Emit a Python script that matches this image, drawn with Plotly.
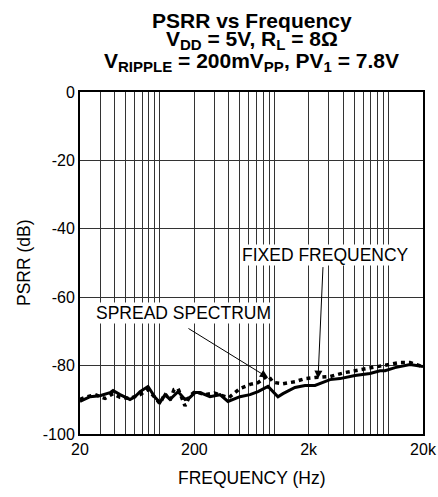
import plotly.graph_objects as go

# Solid curve (spread spectrum)
ss_freq = [20, 24.5, 29.9, 36.6, 38.9, 44.8, 54.7, 60.5, 67, 78.7, 90.6, 100, 110.8, 122.5,
           144, 165.7, 183, 203, 224, 274, 335, 394, 501, 614, 721, 882, 1078, 1192, 1518,
           1858, 2272, 2617, 3074, 3759, 5083, 6880, 8414, 9311, 11380, 15380, 20000]
ss_db = [-90.5, -89.1, -88.8, -87.9, -87.3, -88.5, -89.9, -89.1, -87.6, -86.1, -89.3, -90.8,
         -88.5, -89.9, -87.6, -89.9, -89.3, -87.9, -87.9, -89.1, -88.5, -90.5, -89.1, -88.5,
         -87.6, -86.1, -89.1, -88.2, -86.4, -85.8, -85.8, -84.9, -84.1, -83.8, -82.9, -82.3,
         -81.5, -81.5, -80.6, -79.7, -80.3]

# Dashed curve (fixed frequency)
ff_freq = [20, 22.1, 27.1, 33.1, 38.9, 44.8, 54.7, 67, 78.7, 90.6, 100, 110.8, 122.5, 133,
           144, 165.7, 183, 203, 250, 300, 400, 501, 614, 721, 882, 980, 1192, 1518, 1858,
           2272, 3074, 4200, 5700, 8414, 12500, 15380, 20000]
ff_db = [-89.9, -89.3, -88.5, -89.6, -88.2, -89.3, -89.6, -88.5, -87.0, -89.6, -91.1, -88.2,
         -90.2, -87.0, -86.7, -91.8, -88.8, -87.6, -88.5, -88.0, -89.4, -86.7, -85.5, -85.0,
         -82.9, -84.9, -85.3, -84.7, -83.8, -83.5, -83.2, -82.0, -81.2, -80.3, -79.1, -79.1,
         -80.3]

x_tickvals = [20, 30, 40, 50, 60, 70, 80, 90, 100, 200, 300, 400, 500, 600, 700, 800, 900,
              1000, 2000, 3000, 4000, 5000, 6000, 7000, 8000, 9000, 10000, 20000]
x_ticktext = ["20", "", "", "", "", "", "", "", "", "200", "", "", "", "", "", "", "", "",
              "2k", "", "", "", "", "", "", "", "", "20k"]
y_tickvals = [0, -20, -40, -60, -80, -100]
y_ticktext = ["0", "-20", "-40", "-60", "-80", "-100"]


def sub(s):
    return "<sub><span style='font-size:15px'>" + s + "</span></sub>"


title_lines = [
    "<b>PSRR vs Frequency</b>",
    "<b>V" + sub("DD") + " = 5V, R" + sub("L") + " = 8Ω</b>",
    "<b>V" + sub("RIPPLE") + " = 200mV" + sub("PP") + ", PV" + sub("1") + " = 7.8V</b>",
]

font_family = "Liberation Sans, Arial, sans-serif"

fig = go.Figure()
fig.add_trace(go.Scatter(x=ff_freq, y=ff_db, mode="lines",
                         line=dict(color="black", width=3.5, dash="4px,4px"),
                         showlegend=False))
fig.add_trace(go.Scatter(x=ss_freq, y=ss_db, mode="lines",
                         line=dict(color="black", width=3),
                         showlegend=False))

fig.update_layout(
    width=438, height=497,
    margin=dict(l=80, r=15, t=92, b=63, autoexpand=False),
    paper_bgcolor="white", plot_bgcolor="white",
    font=dict(family=font_family, size=16, color="black"),
    xaxis=dict(
        type="log", range=[1.30103, 4.30103],
        tickvals=x_tickvals, ticktext=x_ticktext, ticks="",
        showgrid=True, gridcolor="#333333", gridwidth=1,
        showline=True, linecolor="black", linewidth=2, mirror=True,
        tickfont=dict(size=16), zeroline=False, automargin=False,
    ),
    yaxis=dict(
        range=[-100, 0], tickvals=y_tickvals, ticktext=y_ticktext, ticks="",
        showgrid=True, gridcolor="#333333", gridwidth=1,
        showline=True, linecolor="black", linewidth=2, mirror=True,
        tickfont=dict(size=16), zeroline=False, automargin=False,
    ),
)

# Title lines
for txt, py in zip(title_lines, [20, 40, 62]):
    fig.add_annotation(x=0.5, y=(434 - py) / 342, xref="paper", yref="paper",
                       text=txt, showarrow=False, xanchor="center", yanchor="middle",
                       font=dict(size=21))

# Axis titles
fig.add_annotation(x=0.5, y=(434 - 478) / 342, xref="paper", yref="paper",
                   text="FREQUENCY (Hz)", showarrow=False, xanchor="center",
                   yanchor="middle", font=dict(size=17.5))
fig.add_annotation(x=(24 - 80) / 343, y=0.5, xref="paper", yref="paper",
                   text="PSRR (dB)", showarrow=False, textangle=-90,
                   xanchor="center", yanchor="middle", font=dict(size=17.5))

# Text labels
fig.add_annotation(x=3.444, y=-47.6, xref="x", yref="y", text="FIXED FREQUENCY",
                   showarrow=False, bgcolor="white", font=dict(size=17.5), borderpad=0)
fig.add_annotation(x=2.21, y=-64.5, xref="x", yref="y", text="SPREAD SPECTRUM",
                   showarrow=False, bgcolor="white", font=dict(size=17.5), borderpad=0)
# Arrows
fig.add_annotation(x=2.945, y=-83.5, xref="x", yref="y", text="", showarrow=True,
                   ax=-81, ay=-50, arrowhead=2, arrowsize=1.6, arrowwidth=1, arrowcolor="black")
fig.add_annotation(x=3.383, y=-83.8, xref="x", yref="y", text="", showarrow=True,
                   ax=5, ay=-113, arrowhead=2, arrowsize=1.6, arrowwidth=1, arrowcolor="black")

fig.write_html("out.html", config={"displayModeBar": False},
               post_script="document.body.style.margin='0';")
